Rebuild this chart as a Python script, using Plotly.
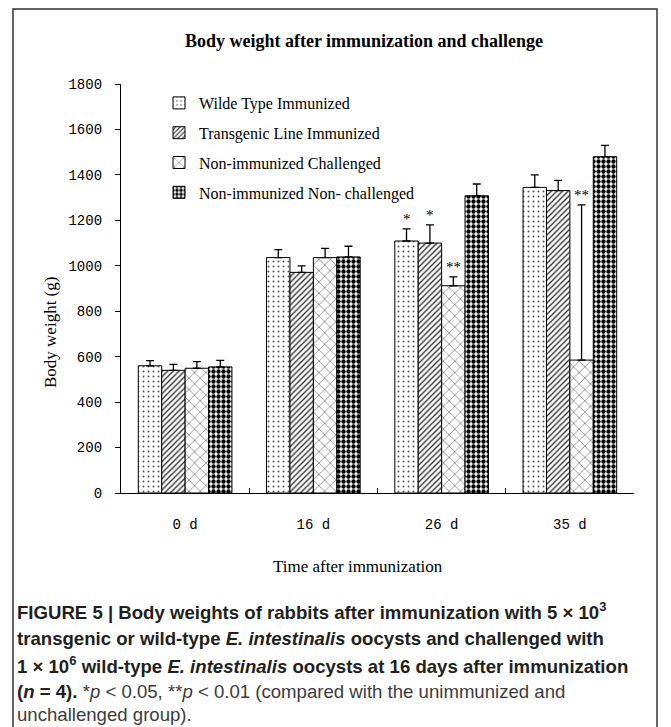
import plotly.graph_objects as go

# ---- data ----
categories = ["0 d", "16 d", "26 d", "35 d"]
series_names = ["Wilde Type Immunized", "Transgenic Line Immunized",
                "Non-immunized Challenged", "Non-immunized Non- challenged"]
wt = [560, 1036, 1109, 1345]
wt_err = [23, 35, 53, 55]
tl = [540, 971, 1100, 1331]
tl_err = [26, 29, 80, 45]
nc = [549, 1036, 912, 585]
nc_err = [29, 41, 39, 683]
nn = [555, 1039, 1308, 1480]
nn_err = [29, 47, 52, 50]
wt_sig = ["", "", "*", ""]
tl_sig = ["", "", "*", ""]
nc_sig = ["", "", "**", "**"]
nn_sig = ["", "", "", ""]
y_ticks = [0, 200, 400, 600, 800, 1000, 1200, 1400, 1600, 1800]

values = [wt, tl, nc, nn]
errors = [wt_err, tl_err, nc_err, nn_err]
sigs = [wt_sig, tl_sig, nc_sig, nn_sig]
patterns = [
    dict(shape=".", size=5, solidity=0.12, fgcolor="#555555", bgcolor="white", fillmode="replace"),
    dict(shape="/", size=4, solidity=0.35, fgcolor="#333333", bgcolor="white", fillmode="replace"),
    dict(shape="x", size=8, solidity=0.14, fgcolor="#555555", bgcolor="white", fillmode="replace"),
    dict(shape=".", size=5, solidity=0.6, fgcolor="#000000", bgcolor="white", fillmode="replace"),
]

SERIF = "Liberation Serif, Times New Roman, serif"
MONO = "Liberation Mono, Courier New, monospace"

# page body has an 8px margin; lay out in page pixels
OFF = 8
PL, PT, PW, PH = 121, 84, 513, 409  # plot area in page pixels


def px(x):
    return (x - PL) / PW


def py(y):
    return (PT + PH - y) / PH


fig = go.Figure()
for i in range(4):
    fig.add_trace(go.Bar(
        x=categories, y=values[i], name=series_names[i],
        legendgroup=f"g{i}",
        marker=dict(color="white", pattern=patterns[i],
                    line=dict(color="black", width=1)),
        error_y=dict(type="data", symmetric=False, array=errors[i],
                     arrayminus=[0] * len(categories),
                     color="black", thickness=1.3, width=4),
    ))

bargap = 0.27
nser = 4
bw = (1 - bargap) / nser
for i in range(nser):
    off = -(1 - bargap) / 2 + bw * (i + 0.5)
    for j, lab in enumerate(sigs[i]):
        if lab:
            fig.add_annotation(x=j + off, y=values[i][j] + errors[i][j],
                               xref="x", yref="y", text=lab, showarrow=False,
                               yanchor="bottom", xanchor="center", yshift=0,
                               font=dict(family=SERIF, size=15, color="black"))

# axis titles
fig.add_annotation(text="Time after immunization", xref="paper", yref="paper",
                   x=px(358), y=py(566), showarrow=False,
                   xanchor="center", yanchor="middle",
                   font=dict(family=SERIF, size=17, color="black"))
fig.add_annotation(text="Body weight (g)", xref="paper", yref="paper",
                   x=px(50), y=py(333), showarrow=False,
                   textangle=-90, xanchor="center", yanchor="middle",
                   font=dict(family=SERIF, size=17, color="black"))

# caption
CAP = "Liberation Sans, Arial, sans-serif"
REG = '<span style="color:#3c3c3c">'
cap_lines = [
    "<b>FIGURE 5 | Body weights of rabbits after immunization with 5 × 10<sup>3</sup></b>",
    "<b>transgenic or wild-type <i>E. intestinalis</i> oocysts and challenged with</b>",
    "<b>1 × 10<sup>6</sup> wild-type <i>E. intestinalis</i> oocysts at 16 days after immunization</b>",
    "<b>(<i>n</i> = 4).</b> " + REG + "*<i>p</i> < 0.05, **<i>p</i> < 0.01 (compared with the unimmunized and</span>",
    REG + "unchallenged group).</span>",
]
cap_y = [611, 638, 664.5, 691, 714]
for t, yy in zip(cap_lines, cap_y):
    fig.add_annotation(text=t, xref="paper", yref="paper",
                       x=px(15), y=py(yy), showarrow=False,
                       xanchor="left", yanchor="middle",
                       font=dict(family=CAP, size=18.6, color="#231f20"))

# outer frame
fig.add_shape(type="path", xref="paper", yref="paper",
              path=f"M {px(13)} {py(760)} L {px(13)} {py(9)} "
                   f"L {px(657)} {py(9)} L {px(657)} {py(760)}",
              line=dict(color="#333333", width=1.5))

W, H = 671, 727
fig.update_layout(
    width=W, height=H,
    margin=dict(l=PL - OFF, r=W - (PL - OFF) - PW, t=PT - OFF, b=H - (PT - OFF) - PH),
    paper_bgcolor="white", plot_bgcolor="white",
    barmode="group", bargap=bargap, bargroupgap=0,
    title=dict(text="<b>Body weight after immunization and challenge</b>",
               x=px(364), xref="paper", xanchor="center",
               y=1 - (41 - OFF) / H, yanchor="middle",
               font=dict(family=SERIF, size=18, color="black")),
    showlegend=True,
    legend=dict(x=px(159), y=py(86), xanchor="left", yanchor="top",
                bgcolor="rgba(0,0,0,0)", tracegroupgap=6,
                font=dict(family=SERIF, size=16, color="black")),
    xaxis=dict(type="category", range=[-0.5, 3.5], showline=True, linecolor="black",
               linewidth=1.3, ticks="inside", ticklen=5, tickcolor="black",
               tickson="boundaries", showgrid=False, zeroline=False,
               ticklabelstandoff=18,
               tickfont=dict(family=MONO, size=14, color="black")),
    yaxis=dict(range=[0, 1800], tickvals=y_ticks, showline=True, linecolor="black",
               linewidth=1.3, ticks="outside", ticklen=5, tickcolor="black",
               showgrid=False, zeroline=False, ticklabelstandoff=10,
               tickfont=dict(family=MONO, size=14, color="black")),
)

fig.write_html("out.html")
